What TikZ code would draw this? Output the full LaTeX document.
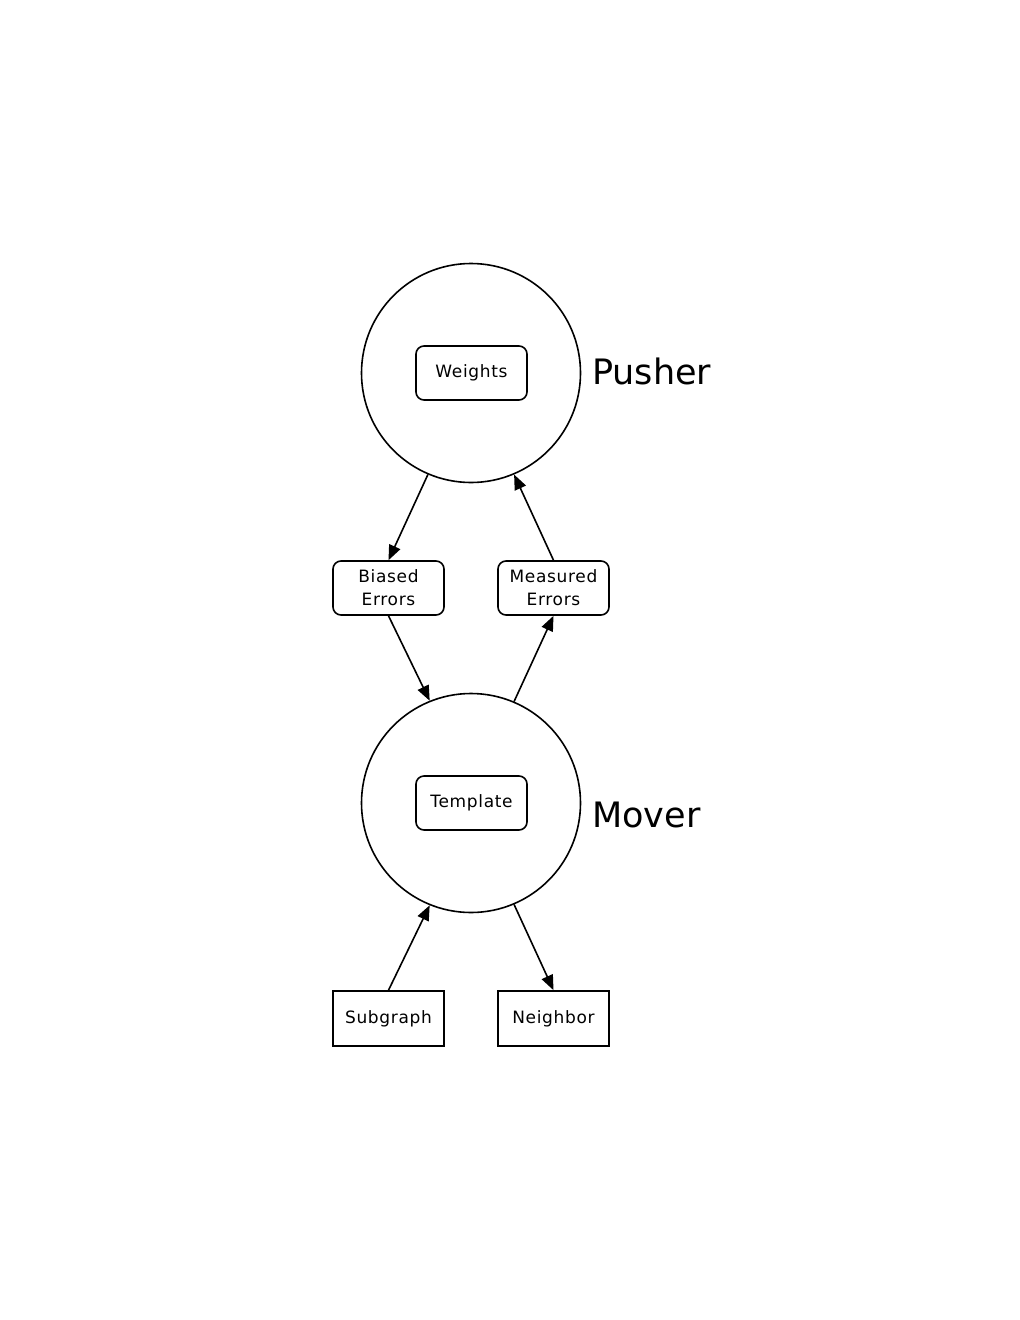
\documentclass[tikz,border=0pt]{standalone}
\usepackage{fontspec}
\setmainfont{DejaVu Sans}[LetterSpace=4]
\newfontfamily\bigfont{DejaVu Sans}
\usetikzlibrary{arrows.meta}
\begin{document}
\begin{tikzpicture}[x=1pt,y=-1pt,
  every node/.style={font=\fontsize{17}{23}\selectfont},
  circ/.style={circle,draw,line width=1.6pt,minimum size=219pt,inner sep=0pt},
  rbox/.style={draw,line width=1.6pt,rounded corners=8pt,minimum width=111pt,minimum height=54pt,align=center,inner sep=1pt},
  sbox/.style={draw,line width=1.6pt,minimum width=111pt,minimum height=55pt,align=center,inner sep=1pt},
  lab/.style={anchor=west,font=\bigfont\fontsize{35}{40}\selectfont,inner sep=0pt},
  arr/.style={line width=1.6pt,-{Triangle[length=15pt,width=12pt]}}
]
\useasboundingbox (0,0) rectangle (1020,1320);
\node[circ] (P) at (471,373) {};
\node[circ] (M) at (471,803) {};
\node[rbox] (W) at (471.5,373) {Weights};
\node[rbox] (T) at (471.5,803) {Template};
\node[rbox] (BE) at (388.5,588) {Biased\\Errors};
\node[rbox] (ME) at (553.5,588) {Measured\\Errors};
\node[sbox] (SG) at (388.5,1018.5) {Subgraph};
\node[sbox] (NB) at (553.5,1018.5) {Neighbor};
\node[lab] (PL) at (592,371) {Pusher};
\node[lab] (ML) at (592,815) {Mover};
\draw[arr] (P.-113) -- (BE.north);
\draw[arr] (ME.north) -- (P.-67);
\draw[arr] (BE.south) -- (M.112);
\draw[arr] (M.67) -- (ME.south);
\draw[arr] (SG.north) -- (M.-112);
\draw[arr] (M.-67) -- (NB.north);
\end{tikzpicture}
\end{document}
